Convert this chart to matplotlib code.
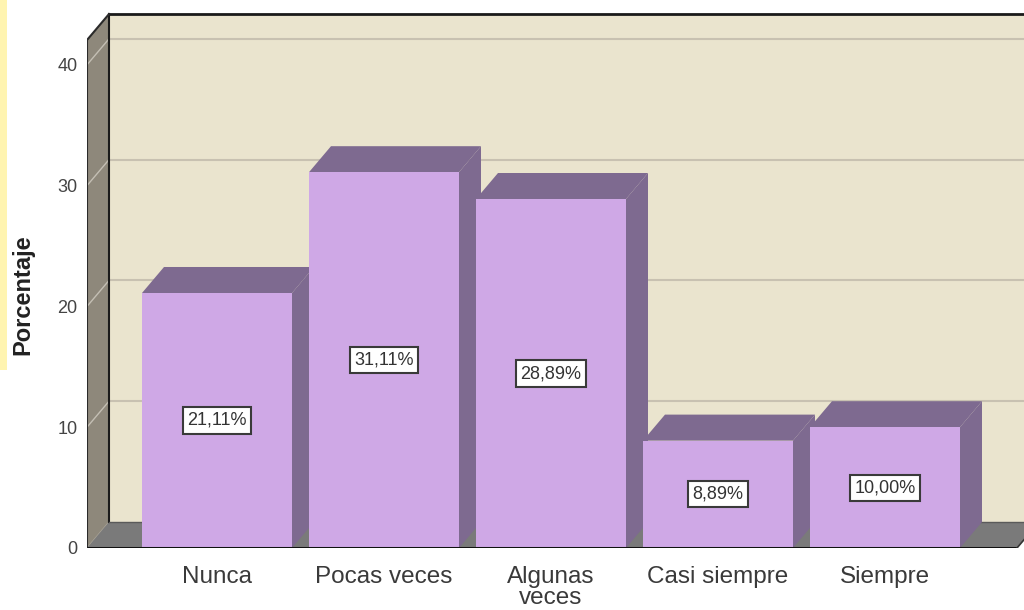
import matplotlib
matplotlib.use("Agg")
import matplotlib.pyplot as plt
from matplotlib.patches import Polygon, Rectangle

# ---- data ----
categories = ["Nunca", "Pocas veces", "Algunas\nveces", "Casi siempre", "Siempre"]
values = [21.11, 31.11, 28.89, 8.89, 10.00]
value_labels = ["21,11%", "31,11%", "28,89%", "8,89%", "10,00%"]
yticks = [0, 10, 20, 30, 40]
ylabel = "Porcentaje"

# ---- style / geometry ----
plt.rcParams['font.family'] = ['Liberation Sans', 'DejaVu Sans']
wall_back = '#EAE4CE'
wall_left = '#8E887B'
floor_col = '#7A7A7A'
bar_front = '#CFA8E6'
bar_shade = '#7E6A90'
grid_col = '#C8C1B1'

W, H = 1024, 610
fig = plt.figure(figsize=(W / 100, H / 100), dpi=100)
fig.patch.set_facecolor('white')
# pale yellow strip on the far left edge
fig.patches.append(Rectangle((0, 1 - 370 / H), 7 / W, 370 / H, transform=fig.transFigure,
                             facecolor='#FFF4B0', edgecolor='none', zorder=0))

ax = fig.add_axes([87 / W, 62 / H, (W - 87) / W, 548 / H])
px_per_unit = 12.08
ax.set_ylim(0, 548 / px_per_unit)
xl = (87 - 217) / 167
ax.set_xlim(xl, (W - 217) / 167)
ax.set_facecolor('none')
for s in ax.spines.values():
    s.set_visible(False)

dx = 22 / 167
dy = 26 / px_per_unit
top = 42.05
bw = 150 / 167
xr_front = (1017 - 217) / 167
xfar = 7

# back wall
ax.add_patch(Polygon([(xl + dx, dy), (xl + dx, top + dy), (xfar, top + dy), (xfar, dy)],
                     closed=True, facecolor=wall_back, edgecolor='none', zorder=1))
# left wall
ax.add_patch(Polygon([(xl, 0), (xl + dx, dy), (xl + dx, top + dy), (xl, top)],
                     closed=True, facecolor=wall_left, edgecolor='none', zorder=1))
# gridlines on back wall and diagonal lines on left wall
for t in yticks[1:]:
    ax.plot([xl + dx, xfar], [t + dy, t + dy], color=grid_col, lw=1.5, zorder=1.5)
    ax.plot([xl, xl + dx], [t, t + dy], color='#C4BFB4', lw=1.0, zorder=1.5)
ax.plot([xl, xl + dx], [0, dy], color='#A8A295', lw=1.0, zorder=1.5)
# floor
ax.add_patch(Polygon([(xl, 0), (xl + dx, dy), (xr_front + dx, dy), (xr_front, 0)],
                     closed=True, facecolor=floor_col, edgecolor='none', zorder=2))
# outlines
ax.plot([xl + dx, xfar], [top + dy, top + dy], color='#1a1a1a', lw=2, zorder=2.5)
ax.plot([xl + dx, xl + dx], [dy, top + dy], color='#1a1a1a', lw=1.5, zorder=2.5)
ax.plot([xl, xl, xl + dx], [0, top, top + dy], color='#2a2a2a', lw=1.5, zorder=2.5)
ax.plot([xl + dx, xr_front + dx], [dy, dy], color='#5a5a5a', lw=1, zorder=2.5)

# bars
for i, v in enumerate(values):
    x0, x1 = i - bw / 2, i + bw / 2
    z = 3 + i * 0.1
    ax.add_patch(Polygon([(x1, 0), (x1 + dx, dy), (x1 + dx, v + dy), (x1, v)],
                         closed=True, facecolor=bar_shade, edgecolor='none', zorder=z))
    ax.add_patch(Polygon([(x0, v), (x0 + dx, v + dy), (x1 + dx, v + dy), (x1, v)],
                         closed=True, facecolor=bar_shade, edgecolor='none', zorder=z))
    ax.add_patch(Rectangle((x0, 0), bw, v, facecolor=bar_front, edgecolor='none', zorder=z + 0.01))
    ax.text(i, v / 2, value_labels[i], ha='center', va='center', fontsize=13, color='#333333',
            zorder=10,
            bbox=dict(boxstyle='square,pad=0.25', facecolor='white', edgecolor='#3a3a3a', lw=1.5))

# front baseline
ax.plot([xl, xr_front], [0, 0], color='#111111', lw=2.2, zorder=6, solid_capstyle='butt')
ax.plot([xr_front, xr_front + dx], [0, dy], color='#333333', lw=1.2, zorder=6)

ax.set_yticks(yticks)
ax.set_yticklabels([str(t) for t in yticks], fontsize=13, color='#444444')
ax.set_xticks(range(len(categories)))
ax.set_xticklabels(categories, fontsize=17.5, color='#3a3a3a', linespacing=0.95)
ax.tick_params(axis='both', length=0)
ax.tick_params(axis='y', pad=7)
ax.tick_params(axis='x', pad=13)
ax.set_ylabel(ylabel, fontsize=17, fontweight='bold', color='#222222')
ax.yaxis.set_label_coords((34 - 87) / 937, (548 - 295) / 548)

fig.savefig('out.png', dpi=100)
